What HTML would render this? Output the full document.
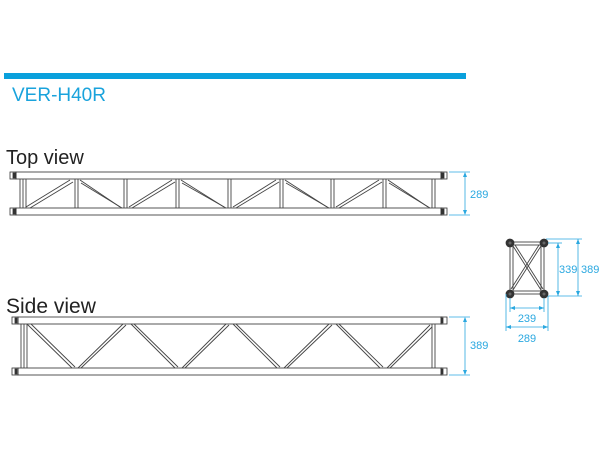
<!DOCTYPE html>
<html><head><style>
body{margin:0;background:#fff;width:610px;height:450px;overflow:hidden}
svg{display:block}
</style></head><body>
<svg width="610" height="450" viewBox="0 0 610 450" xmlns="http://www.w3.org/2000/svg">
<rect x="4" y="73" width="462" height="6" fill="#0aa0dc"/>
<text x="12" y="101" font-family="Liberation Sans, sans-serif" font-size="19" fill="#1aa3dc">VER-H40R</text>
<text x="6" y="164" font-family="Liberation Sans, sans-serif" font-size="20" fill="#222">Top view</text>
<text x="6" y="313" font-family="Liberation Sans, sans-serif" font-size="21" fill="#222">Side view</text>

<g fill="none" stroke="#444" stroke-width="0.9">
<rect x="16" y="172" width="426" height="7"/>
<rect x="16" y="208" width="426" height="7"/>
<line x1="20" y1="179" x2="20" y2="208"/><line x1="23" y1="179" x2="23" y2="208"/><line x1="26" y1="179" x2="26" y2="208"/>
<line x1="432" y1="179" x2="432" y2="208"/><line x1="435" y1="179" x2="435" y2="208"/>
<line x1="75" y1="179" x2="75" y2="208"/><line x1="78" y1="179" x2="78" y2="208"/>
<line x1="124" y1="179" x2="124" y2="208"/><line x1="127" y1="179" x2="127" y2="208"/>
<line x1="176" y1="179" x2="176" y2="208"/><line x1="179" y1="179" x2="179" y2="208"/>
<line x1="228" y1="179" x2="228" y2="208"/><line x1="231" y1="179" x2="231" y2="208"/>
<line x1="280" y1="179" x2="280" y2="208"/><line x1="283" y1="179" x2="283" y2="208"/>
<line x1="331" y1="179" x2="331" y2="208"/><line x1="334" y1="179" x2="334" y2="208"/>
<line x1="383" y1="179" x2="383" y2="208"/><line x1="386" y1="179" x2="386" y2="208"/>
<line x1="26" y1="207" x2="70" y2="180"/><line x1="30" y1="208" x2="73" y2="182"/>
<line x1="80" y1="180" x2="120" y2="207"/><line x1="81" y1="183" x2="122" y2="208"/>
<line x1="129" y1="207" x2="172" y2="180"/><line x1="132" y1="208" x2="175" y2="182"/>
<line x1="181" y1="180" x2="224" y2="207"/><line x1="182" y1="183" x2="226" y2="208"/>
<line x1="233" y1="207" x2="276" y2="180"/><line x1="236" y1="208" x2="279" y2="182"/>
<line x1="285" y1="180" x2="327" y2="207"/><line x1="286" y1="183" x2="329" y2="208"/>
<line x1="336" y1="207" x2="379" y2="180"/><line x1="339" y1="208" x2="382" y2="182"/>
<line x1="388" y1="180" x2="428" y2="207"/><line x1="389" y1="183" x2="430" y2="208"/>

<rect x="18" y="317" width="424" height="7"/>
<rect x="18" y="368" width="424" height="7"/>
<line x1="21" y1="324" x2="21" y2="368"/><line x1="24" y1="324" x2="24" y2="368"/><line x1="27" y1="324" x2="27" y2="368"/>
<line x1="432" y1="324" x2="432" y2="368"/><line x1="435" y1="324" x2="435" y2="368"/>
<line x1="27" y1="324" x2="72" y2="368"/><line x1="31" y1="324" x2="75" y2="367"/>
<line x1="78" y1="368" x2="123" y2="324"/><line x1="81" y1="368" x2="126" y2="325"/>
<line x1="131" y1="324" x2="175" y2="368"/><line x1="134" y1="324" x2="178" y2="367"/>
<line x1="182" y1="368" x2="226" y2="324"/><line x1="185" y1="368" x2="229" y2="325"/>
<line x1="233" y1="324" x2="277" y2="368"/><line x1="236" y1="324" x2="280" y2="367"/>
<line x1="284" y1="368" x2="329" y2="324"/><line x1="287" y1="368" x2="332" y2="325"/>
<line x1="336" y1="324" x2="380" y2="368"/><line x1="339" y1="324" x2="383" y2="367"/>
<line x1="387" y1="368" x2="430" y2="325"/><line x1="390" y1="368" x2="432" y2="327"/>
<rect x="510" y="242" width="34" height="52"/>
<rect x="513" y="245" width="28" height="46"/>
<line x1="513" y1="246" x2="541" y2="290"/><line x1="515" y1="245" x2="543" y2="289"/>
<line x1="541" y1="246" x2="513" y2="290"/><line x1="539" y1="245" x2="511" y2="289"/>
</g>
<g fill="#333" stroke="#333" stroke-width="0.8">
<rect x="10" y="172" width="6" height="7" fill="#fff"/><rect x="13" y="173" width="3" height="5"/>
<rect x="10" y="208" width="6" height="7" fill="#fff"/><rect x="13" y="209" width="3" height="5"/>
<rect x="441" y="172" width="6" height="7" fill="#fff"/><rect x="441" y="173" width="3" height="5"/>
<rect x="441" y="208" width="6" height="7" fill="#fff"/><rect x="441" y="209" width="3" height="5"/>
<rect x="12" y="317" width="6" height="7" fill="#fff"/><rect x="15" y="318" width="2" height="5"/>
<rect x="12" y="368" width="6" height="7" fill="#fff"/><rect x="15" y="369" width="2" height="5"/>
<rect x="441" y="317" width="6" height="7" fill="#fff"/><rect x="441" y="318" width="2" height="5"/>
<rect x="441" y="368" width="6" height="7" fill="#fff"/><rect x="441" y="369" width="2" height="5"/>
<circle cx="510" cy="243" r="4"/><circle cx="544" cy="243" r="4"/>
<circle cx="510" cy="294" r="4"/><circle cx="544" cy="294" r="4"/>
</g>
<g fill="#666"><circle cx="510" cy="243" r="1.5"/><circle cx="544" cy="243" r="1.5"/><circle cx="510" cy="294" r="1.5"/><circle cx="544" cy="294" r="1.5"/></g>

<g stroke="#2aa8e0" stroke-width="0.8" fill="#2aa8e0">
<line x1="449" y1="172" x2="470" y2="172"/><line x1="449" y1="215" x2="470" y2="215"/>
<line x1="465" y1="173" x2="465" y2="214"/>
<path d="M465 172 l-2 5 h4z M465 215 l-2 -5 h4z" stroke="none"/>
<line x1="449" y1="317" x2="470" y2="317"/><line x1="449" y1="375" x2="470" y2="375"/>
<line x1="465" y1="318" x2="465" y2="374"/>
<path d="M465 317 l-2 5 h4z M465 375 l-2 -5 h4z" stroke="none"/>
<line x1="548" y1="243" x2="562" y2="243"/><line x1="548" y1="296" x2="582" y2="296"/>
<line x1="546" y1="239" x2="582" y2="239"/>
<line x1="558" y1="243" x2="558" y2="296"/>
<path d="M558 243 l-2 5 h4z M558 296 l-2 -5 h4z" stroke="none"/>
<line x1="578" y1="239" x2="578" y2="296"/>
<path d="M578 239 l-2 5 h4z M578 296 l-2 -5 h4z" stroke="none"/>
<line x1="510" y1="298" x2="510" y2="312"/><line x1="544" y1="298" x2="544" y2="312"/>
<line x1="506" y1="294" x2="506" y2="331"/><line x1="548" y1="296" x2="548" y2="331"/>
<line x1="510" y1="308" x2="544" y2="308"/>
<path d="M510 308 l5 -2 v4z M544 308 l-5 -2 v4z" stroke="none"/>
<line x1="506" y1="327" x2="548" y2="327"/>
<path d="M506 327 l5 -2 v4z M548 327 l-5 -2 v4z" stroke="none"/>
</g>
<g font-family="Liberation Sans, sans-serif" font-size="11" fill="#2aa8e0">
<text x="470" y="198">289</text>
<text x="470" y="349">389</text>
<text x="559" y="273">339</text>
<text x="581" y="273">389</text>
<text x="527" y="322" text-anchor="middle">239</text>
<text x="527" y="342" text-anchor="middle">289</text>
</g>
</svg>
</body></html>
